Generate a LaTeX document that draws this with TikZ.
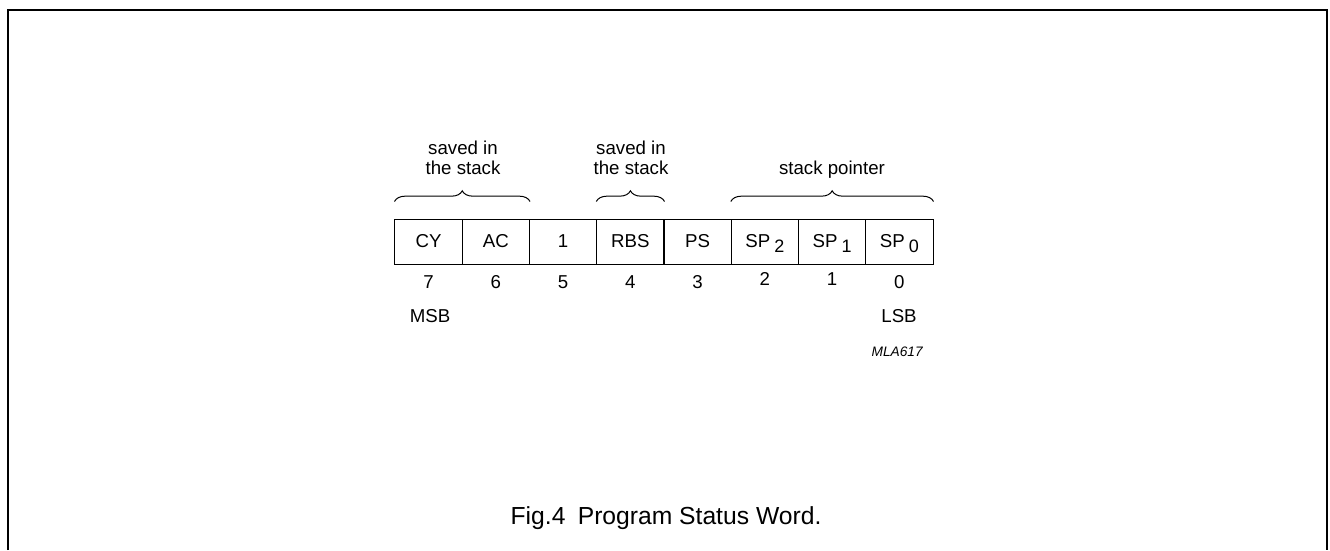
\documentclass[tikz,border=0pt]{standalone}
\usepackage{fontspec}
\setmainfont{Liberation Sans}
\usetikzlibrary{decorations.pathreplacing}

\tikzset{
  bitcell/.style={draw, line width=0.75pt, minimum width=50.44pt, minimum height=33.75pt, inner sep=0pt, font=\fontsize{14}{15}\selectfont},
  lbl/.style={inner sep=0.75pt, font=\fontsize{14}{15}\selectfont, align=center},
  grp/.style={decorate, decoration={brace, amplitude=8pt}, line width=0.75pt},
}
\newcommand{\subbit}[1]{\hspace{3pt}\raisebox{-3.5pt}[0pt][0pt]{\fontsize{13.5}{13.5}\selectfont #1}}

\begin{document}
\begin{tikzpicture}[x=0.75pt,y=0.75pt,yscale=-1,xscale=1]
\useasboundingbox (0,0) rectangle (1330,550);

%Frame
\draw [line width=1.2pt] (8,550) -- (8,10) -- (1327,10) -- (1327,550) ;

%Bit cells
\node [bitcell] (cy)  at (428.6,241.5) {CY};
\node [bitcell] (ac)  at (495.9,241.5) {AC};
\node [bitcell] (one) at (563.1,241.5) {1};
\node [bitcell] (rbs) at (630.4,241.5) {RBS};
\node [bitcell] (ps)  at (697.6,241.5) {PS};
\node [bitcell] (sp2) at (764.9,241.5) {SP\subbit{2}};
\node [bitcell] (sp1) at (832.1,241.5) {SP\subbit{1}};
\node [bitcell] (sp0) at (899.4,241.5) {SP\subbit{0}};

%Braces
\draw [grp] ([yshift=-12.75pt]cy.north west) -- ([yshift=-12.75pt]ac.north east) ;
\draw [grp] ([yshift=-12.75pt]rbs.north west) -- ([yshift=-12.75pt]rbs.north east) ;
\draw [grp] ([yshift=-12.75pt]sp2.north west) -- ([yshift=-12.75pt]sp0.north east) ;

% Text Node
\node [lbl] (savedA) at (463,158) {saved in\\the stack};
% Text Node
\node [lbl] (savedB) at (631,158) {saved in\\the stack};
% Text Node
\node [lbl] (spt) at (832,170) {stack pointer};

% Bit numbers
\node [lbl] (b7) at (428.6,282) {7};
\node [lbl] (b6) at (495.9,282) {6};
\node [lbl] (b5) at (563.1,282) {5};
\node [lbl] (b4) at (630.4,282) {4};
\node [lbl] (b3) at (697.6,282) {3};
\node [lbl] (b2) at (764.9,279) {2};
\node [lbl] (b1) at (832.1,279) {1};
\node [lbl] (b0) at (899.4,282) {0};

% Text Node
\node [lbl] (msb) at (430,316) {MSB};
% Text Node
\node [lbl] (lsb) at (899,316) {LSB};
% Text Node
\node [lbl, anchor=east, font=\fontsize{10.3}{12}\selectfont\itshape] (code) at (924,352) {MLA617};
% Text Node
\node [lbl, font=\fontsize{18.5}{20}\selectfont] (caption) at (666,518) {Fig.4\hspace{0.5em}Program Status Word.};

\end{tikzpicture}
\end{document}
